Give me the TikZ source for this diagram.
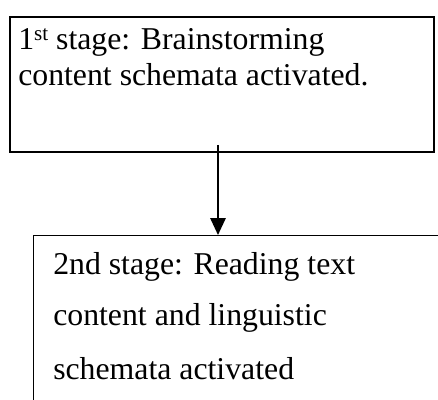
\documentclass[tikz,border=0pt]{standalone}
\usepackage{fontspec}
\setmainfont{Liberation Serif}
\usetikzlibrary{arrows.meta}

\tikzset{
  stagebox/.style = {draw, rectangle, anchor = north west, inner sep = 0pt},
  stagetext/.style = {anchor = base west, inner sep = 0pt, font = \fontsize{22.6}{27}\selectfont}
}
\newcommand{\ordsup}[1]{\raisebox{0.3em}{\fontsize{15}{15}\selectfont #1}}

\begin{document}
\begin{tikzpicture}

\useasboundingbox (0, 0) rectangle (10.95, 10);
\clip (0, 0) rectangle (10.95, 10);

\node[stagebox, line width = 1.4pt, minimum width = 10.6cm, minimum height = 3.375cm] (first) at (0.225, 9.6) {};
\node[stagetext] (firstA) at (0.45, 8.75) {1\ordsup{st} stage: Brainstorming};
\node[stagetext] (firstB) at (0.45, 7.85) {content schemata activated.};

\node[stagebox, line width = 0.7pt, minimum width = 11cm, minimum height = 5cm] (second) at (0.825, 4.125) {};
\node[stagetext] (secondA) at (1.325, 3.125) {2nd stage: Reading text};
\node[stagetext] (secondB) at (1.325, 1.85) {content and linguistic};
\node[stagetext] (secondC) at (1.325, 0.5) {schemata activated};

\coordinate (start) at (5.45, 6.375);
\draw[line width = 1.4pt, -{Triangle[width = 0.38cm, length = 0.42cm]}] (start) -- (start |- second.north);

\end{tikzpicture}
\end{document}
